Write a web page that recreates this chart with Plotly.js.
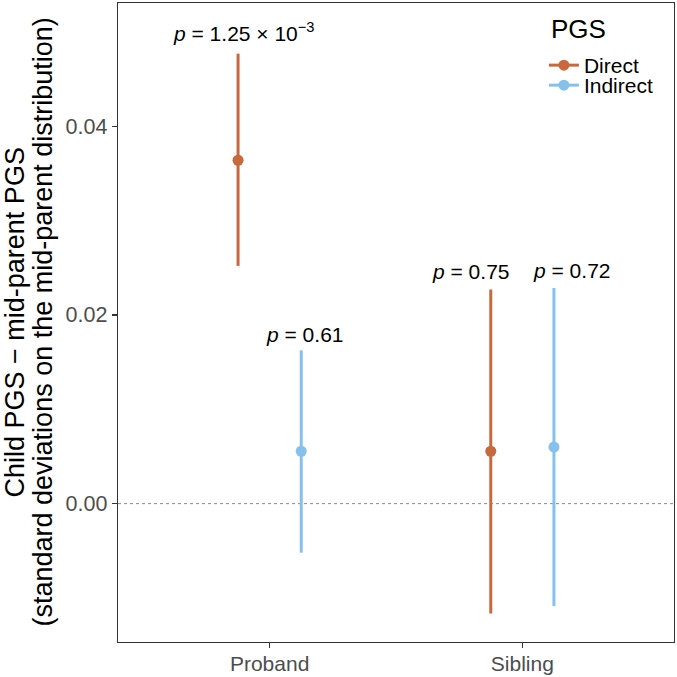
<!DOCTYPE html>
<html>
<head>
<meta charset="utf-8">
<script src="https://cdn.plot.ly/plotly-3.0.1.min.js"></script>
<style>
html,body{margin:0;padding:0;background:#fff;}
#chart{width:677px;height:677px;}
</style>
</head>
<body>
<div id="chart"></div>
<script>
// ---- data ----
const categories = ['Proband', 'Sibling'];
const seriesNames = ['Direct', 'Indirect'];
const directEst = [0.0364, 0.00555];
const directLo = [0.0252, -0.01166];
const directHi = [0.0477, 0.02269];
const indirectEst = [0.00555, 0.0060];
const indirectLo = [-0.0052, -0.01086];
const indirectHi = [0.01625, 0.02286];
const directPLabels = ['<i>p</i> = 1.25 \u00d7 10<sup>\u22123</sup>', '<i>p</i> = 0.75'];
const indirectPLabels = ['<i>p</i> = 0.61', '<i>p</i> = 0.72'];
const yTickVals = [0, 0.02, 0.04];
const yTickText = ['0.00', '0.02', '0.04'];
const legendTitle = 'PGS';
const yTitleLines = ['Child PGS \u2212 mid-parent PGS', '(standard deviations on the mid-parent distribution)'];

// ---- styles ----
const colors = ['#C8693D', '#86C0EC'];
const dodge = 0.125;
const FONT = 'Liberation Sans, Arial, sans-serif';
const labelXShift = [[6, -20], [4, 18]];
const labelYShift = [[7, 5], [2, 4]];
const legendIds = ['legend', 'legend2'];

const est = [directEst, indirectEst];
const lo = [directLo, indirectLo];
const hi = [directHi, indirectHi];
const pLabels = [directPLabels, indirectPLabels];
const offsets = [-dodge, dodge];

const traces = [];
const annotations = [];
seriesNames.forEach((name, s) => {
  const xs = categories.map((c, i) => i + 1 + offsets[s]);
  traces.push({
    type: 'scatter', mode: 'markers', name: name, showlegend: false,
    x: xs, y: est[s],
    marker: {color: colors[s], size: 11},
    error_y: {
      type: 'data', symmetric: false,
      array: est[s].map((v, i) => hi[s][i] - v),
      arrayminus: est[s].map((v, i) => v - lo[s][i]),
      color: colors[s], thickness: 3, width: 0
    },
    hoverinfo: 'skip'
  });
  // legend entry (point-range key)
  traces.push({
    type: 'scatter', mode: 'lines+markers', name: name, showlegend: true,
    legend: legendIds[s],
    x: [null], y: [null],
    marker: {color: colors[s], size: 11},
    line: {color: colors[s], width: 3}
  });
  categories.forEach((c, i) => {
    annotations.push({
      x: xs[i], y: hi[s][i], xref: 'x', yref: 'y',
      text: pLabels[s][i], showarrow: false,
      xanchor: 'center', yanchor: 'bottom',
      xshift: labelXShift[s][i], yshift: labelYShift[s][i],
      font: {family: FONT, size: 21, color: '#000'}
    });
  });
});

// y-axis title (two lines, tight line spacing as in reference)
annotations.push({
  xref: 'paper', yref: 'paper', x: 0, y: 0.5, xshift: -104,
  textangle: -90, showarrow: false, xanchor: 'center', yanchor: 'middle',
  text: yTitleLines[0],
  font: {family: FONT, size: 27, color: '#000'}
});
annotations.push({
  xref: 'paper', yref: 'paper', x: 0, y: 0.5, xshift: -76,
  textangle: -90, showarrow: false, xanchor: 'center', yanchor: 'middle',
  text: yTitleLines[1],
  font: {family: FONT, size: 27, color: '#000'}
});
// legend title
annotations.push({
  xref: 'paper', yref: 'paper', x: 0.775, y: 0.9593,
  xanchor: 'left', yanchor: 'middle', showarrow: false,
  text: legendTitle,
  font: {family: FONT, size: 26, color: '#000'}
});

const legendBase = {
  xanchor: 'left', yanchor: 'middle',
  bgcolor: 'rgba(0,0,0,0)', borderwidth: 0,
  font: {family: FONT, size: 21, color: '#000'},
  itemwidth: 30
};

const layout = {
  width: 677, height: 677,
  margin: {l: 118, r: 3, t: 3, b: 35},
  paper_bgcolor: '#fff', plot_bgcolor: '#fff',
  font: {family: FONT},
  showlegend: true,
  legend: Object.assign({}, legendBase, {x: 0.766, y: 0.9022}),
  legend2: Object.assign({}, legendBase, {x: 0.766, y: 0.8709}),
  xaxis: {
    range: [0.4, 2.6],
    tickvals: categories.map((c, i) => i + 1), ticktext: categories,
    showgrid: false, zeroline: false,
    showline: true, linecolor: '#333333', linewidth: 1.3, mirror: true,
    ticks: 'outside', ticklen: 5, tickwidth: 1.5, tickcolor: '#333333',
    ticklabelstandoff: -3,
    tickfont: {family: FONT, size: 21, color: '#4D4D4D'}
  },
  yaxis: {
    range: [-0.01467, 0.05307],
    tickvals: yTickVals, ticktext: yTickText,
    showgrid: false, zeroline: false,
    showline: true, linecolor: '#333333', linewidth: 1.3, mirror: true,
    ticks: 'outside', ticklen: 5, tickwidth: 1.5, tickcolor: '#333333',
    tickfont: {family: FONT, size: 21.5, color: '#4D4D4D'}
  },
  shapes: [{
    type: 'line', xref: 'paper', x0: 0, x1: 1, yref: 'y', y0: 0, y1: 0,
    line: {color: '#8a8a8a', width: 1, dash: 'dot'}, layer: 'below'
  }],
  annotations: annotations
};

Plotly.newPlot('chart', traces, layout, {displayModeBar: false, staticPlot: true});
</script>
</body>
</html>
